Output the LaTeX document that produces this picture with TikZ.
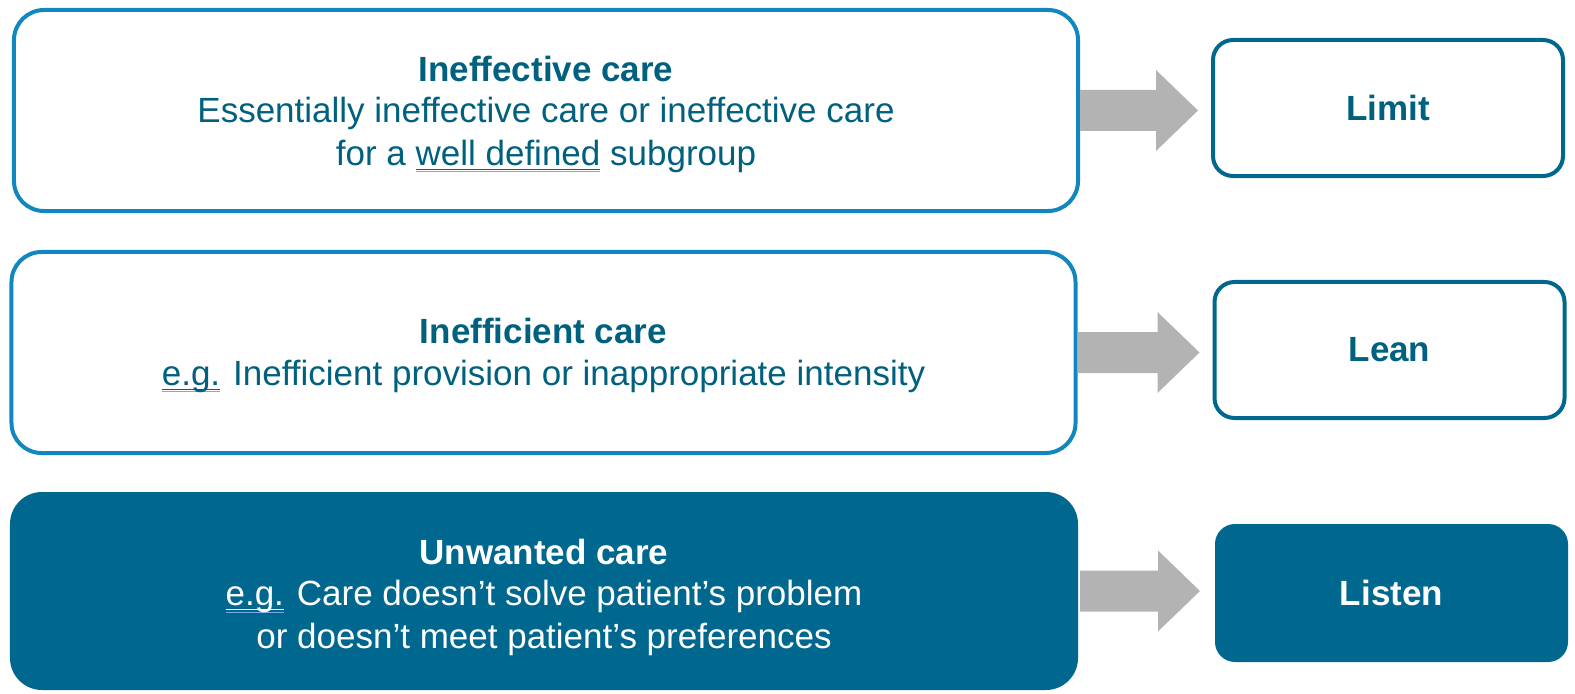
\documentclass[tikz,border=0pt]{standalone}
\usepackage{fontspec}
\setmainfont{Liberation Sans}
\usetikzlibrary{calc,positioning}

\definecolor{lineblue}{HTML}{1287BF}
\definecolor{darkteal}{HTML}{00678F}
\definecolor{textteal}{HTML}{00617F}
\definecolor{arrowgray}{HTML}{B3B3B3}
\definecolor{markblue}{HTML}{7EA6EC}

% double mark under a word (text underline + blue spell mark)
\newlength{\markwd}
\newcommand{\spellmark}[2][textteal]{\settowidth{\markwd}{#2}%
  \rlap{\textcolor{#1}{\rule[-2.4bp]{\markwd}{0.6bp}}}%
  \rlap{\textcolor{markblue}{\rule[-3.6bp]{\markwd}{0.6bp}}}#2}

\begin{document}
\begin{tikzpicture}[x=0.5bp,y=-0.5bp]

    \tikzstyle{carebox}=[draw=lineblue,line width=2bp,rounded corners=15bp,fill=white,minimum width=532bp,minimum height=100.5bp,inner sep=0pt]
    \tikzstyle{caretext}=[text=textteal,align=center,font=\fontsize{17.5bp}{21.5bp}\selectfont,inner sep=0pt]
    \tikzstyle{actbox}=[draw=darkteal,line width=2bp,rounded corners=10bp,fill=white,text=textteal,font=\fontsize{17.5bp}{21bp}\selectfont\bfseries,minimum width=175bp,minimum height=68bp,inner sep=0pt]
    \tikzstyle{blockarrow}=[fill=arrowgray,draw=none]

    \useasboundingbox (0,0) rectangle (1575,694);

    % kinds of care
    \node (ineffective) [carebox] at (546,110.5) {};
    \node (ineffective_label) [caretext] at ($(ineffective)+(0,3.5)$) {\textbf{Ineffective care}\\[-1bp]Essentially ineffective care or ineffective care\\for a \spellmark{well defined} subgroup};

    \node (inefficient) [carebox] at (543.5,352.5) {};
    \node (inefficient_label) [caretext] at ($(inefficient)+(0,2.5)$) {\textbf{Inefficient care}\\[-0.5bp]\spellmark{e.g.} Inefficient provision or inappropriate intensity};

    \node (unwanted) [carebox,draw=none,fill=darkteal,minimum width=534bp,minimum height=99bp,rounded corners=16bp] at (544,591) {};
    \node (unwanted_label) [caretext,text=white] at ($(unwanted)+(0,6.5)$) {\textbf{Unwanted care}\\[-1bp]\spellmark[white]{e.g.} Care doesn't solve patient's problem\\or doesn't meet patient's preferences};

    % what to do
    \node (limit) [actbox] at (1388,108) {Limit};
    \node (lean) [actbox] at (1389.5,350) {Lean};
    \node (listen) [actbox,draw=none,fill=darkteal,text=white,minimum width=176.5bp,minimum height=69bp] at (1391.5,593) {Listen};

    % block arrows
    \foreach \src/\dst in {ineffective/limit,inefficient/lean,unwanted/listen}{
        \coordinate (tail) at (\src.east);
        \coordinate (tipx) at ($(\dst.west)+(-13,0)$);
        \coordinate (tip) at (tipx |- tail);
        \fill[blockarrow] ($(tail)+(0,-20.5)$) -- ($(tip)+(-42,-20.5)$) -- ($(tip)+(-42,-40.5)$) -- (tip)
            -- ($(tip)+(-42,40.5)$) -- ($(tip)+(-42,20.5)$) -- ($(tail)+(0,20.5)$) -- cycle;
    }

\end{tikzpicture}
\end{document}
